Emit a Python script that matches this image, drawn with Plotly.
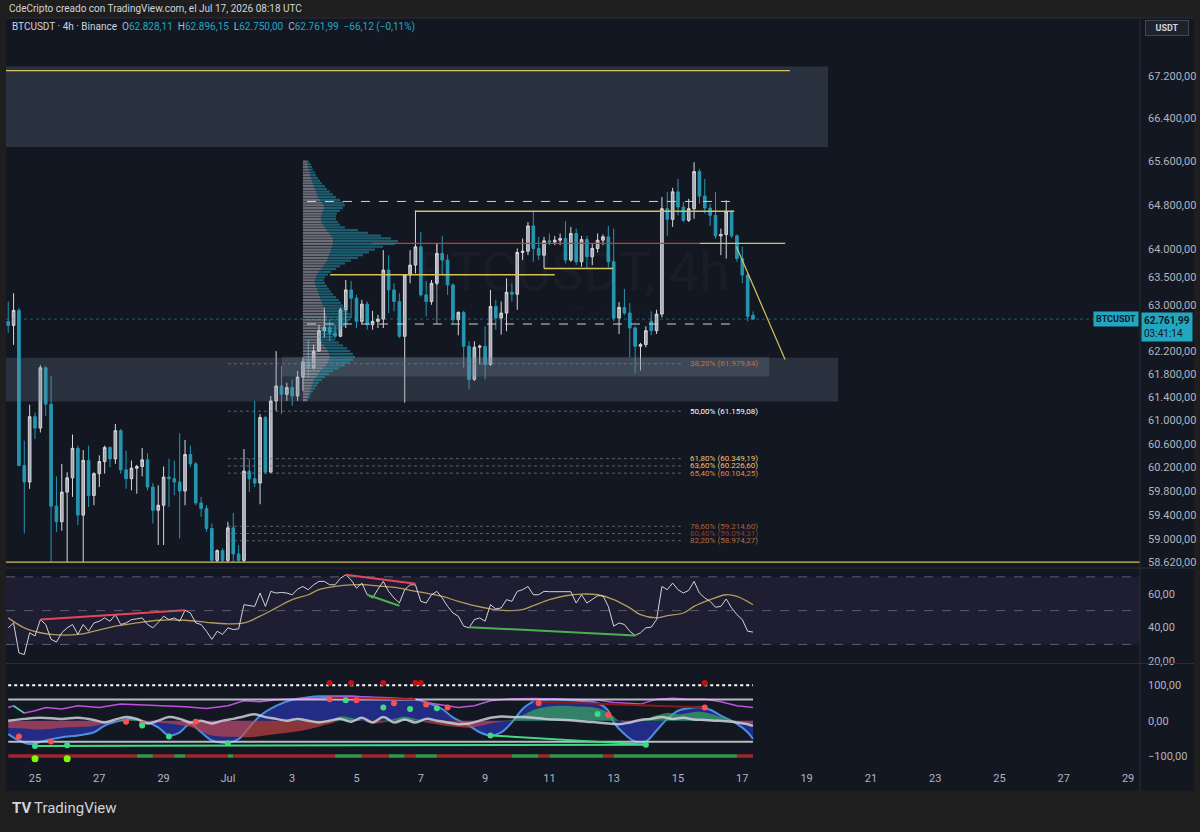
import math
import pandas as pd
import plotly.graph_objects as go

# ---------------- data ----------------
FIRST_BAR = "2026-06-24 04:00"
N_BARS = 140

open_ = [62720,62650,62915,60235,59955,61065,60870,61910,61280,59550,
59290,59785,60025,60525,59400,60320,59730,60095,60300,60540,
60345,60825,60160,60010,60188,60217,60329,59870,59482,59565,
60038,60010,59954,59803,60420,60261,59604,59509,59177,58650,
58810,58650,59188,58755,58650,60138,60010,59937,61052,60122,
61336,61594,61450,61565,61422,61749,62008,61910,62199,62558,
62617,62518,62460,62926,63278,63131,62722,63026,62663,62722,
62762,63632,63278,63073,62460,63544,63721,64049,63190,63073,
63396,63929,63810,63366,62750,62880,62285,61708,62268,62285,
61967,62985,62780,62868,63237,63202,63947,63970,64425,64019,
63899,64157,64135,64168,64198,63810,64289,63780,64180,63870,
64019,64168,64228,63780,62780,62968,62868,62605,62285,62314,
62722,62558,62850,64738,64545,65045,64768,64527,64738,65416,
64968,64750,64618,64246,64270,64690,64246,63840,63544,62828.11]

high = [63075,63220,62960,60655,61270,61135,61955,61940,61765,60050,
60260,60120,60760,60570,60495,60570,60120,60405,60570,60555,
60940,60855,60485,60318,60244,60530,60441,59937,59898,60217,
60345,60318,60780,60666,60571,60289,59703,59565,59260,58832,
58848,59288,59437,58904,60513,60345,61336,61109,61081,61422,
62199,61939,61651,61708,61853,62083,62400,62314,62663,62968,
62750,62663,62968,63455,63437,63190,63102,63073,62908,62838,
63989,63899,63396,63220,63556,63989,64707,64317,63437,63455,
64108,64246,63911,63396,62898,62908,62373,62373,62314,62635,
63278,63102,63073,63485,63396,64019,64198,64497,64678,64228,
64228,64289,64246,64289,64509,64408,64377,64246,64246,64108,
64289,64270,64425,64377,63061,63296,63043,62635,62343,62635,
62898,62926,64950,65045,65118,65282,64859,64919,65588,65465,
65282,64828,65040,64377,64890,64707,64270,64049,63573,62896.15]

low = [62520,62310,60220,59095,59840,60685,60795,61080,58620,59120,
59140,58625,59705,59235,58625,59535,59565,59870,60095,60205,
60260,60095,59840,59815,59758,60050,59815,59260,58904,58904,
59537,59731,59012,59565,60205,59565,59371,59122,58620,58620,
58620,58620,58625,58620,58620,59787,59870,59582,60093,60105,
61166,61109,61336,61251,61336,61508,61737,61881,62187,62430,
62373,62418,62442,62605,62780,62605,62675,62575,62575,62605,
62605,62868,62898,62430,61307,63396,63573,63161,62810,63014,
63366,63544,63190,62675,62477,61910,61537,61680,61967,61708,
61939,62575,62488,62547,63073,62926,63810,63899,63780,63810,
63662,64078,64078,64078,63751,63780,63721,63692,63662,63721,
63947,64078,63674,62722,62500,62838,62095,61823,61863,62268,
62480,62500,62792,64246,64408,64618,64497,64497,64557,64828,
64648,64425,64198,63899,63840,64210,63780,63396,62722,62750.00]

close = [62650,62915,60235,59955,61065,60870,61910,61280,59550,59290,
59785,60025,60525,59400,60320,59730,60095,60300,60540,60345,
60825,60160,60010,60188,60217,60329,59870,59482,59565,60038,
60010,59954,59803,60420,60261,59604,59509,59177,58650,58810,
58650,59188,58755,58650,60138,60010,59937,61052,60122,61336,
61594,61450,61565,61422,61749,62008,61910,62199,62558,62617,
62518,62460,62926,63278,63131,62722,63026,62663,62722,62762,
63632,63278,63073,62460,63544,63721,64049,63190,63073,63396,
63929,63810,63366,62750,62880,62285,61708,62268,62285,61967,
62985,62780,62868,63237,63202,63947,63970,64425,64019,63899,
64157,64135,64168,64198,63810,64289,63780,64180,63870,64019,
64168,64228,63780,62780,62968,62868,62605,62285,62314,62558,
62558,62850,64738,64545,65045,64768,64527,64738,65416,64968,
64750,64618,64246,64270,64690,64246,63840,63544,62810,62761.99]

rsi = [39.8,42.7,25,24,36.9,35,44.7,41.8,33,31.4,36.9,39.8,41.8,35.9,41.8,37.8,42.7,43.7,45.7,43.7,
47.6,41.8,42.7,44.7,45.1,45.7,41.8,39.8,43.1,46.7,44.7,45.7,43.7,50.2,48.6,42.7,41.8,37.8,33,37.8,
35.9,39.8,38.8,39.2,53.5,52.9,52.5,60.4,52.5,61.4,60.4,60.8,60.4,59.4,62.7,64.3,62.4,65.3,67.3,67.3,
65.3,65.3,69.2,71.2,68.2,63.3,66.3,59.4,57.5,62.7,67.3,61.4,57.5,54.5,62.4,65.3,65.3,55.5,54.5,59.4,
61.4,57.5,52.5,48.6,46.7,40.8,39.8,44.7,45.7,43.7,53.5,51,51.6,56.5,55.5,61.4,62.4,64.3,59.4,59.4,
61.4,61.2,61.2,61.2,61.2,61.2,54.5,59.4,54.5,56.5,58.8,58.8,52.5,40.8,42.7,41.8,37.8,35.3,36.9,39.8,
40.2,44.7,64.3,62.4,66.3,62.4,60.4,62,67.3,60.4,57.5,55.5,52,52.5,56.9,51.6,47.6,44.7,37.8,37.3]

rsi_ma_idx = [0,3,6,8,13,16,20,24,28,33,37,41,44,47,50,53,56,58,61,64,67,70,73,76,78,81,84,87,90,93,
              96,98,101,104,107,110,113,116,118,121,123,126,128,131,134,136,139]
rsi_ma_val = [45.7,39.8,36.9,35.9,35.9,37.8,40.8,42.7,44.3,44.3,43.1,42.2,42.7,46.7,51.6,56.5,59.4,62.4,64.3,65.3,
              65.3,64.3,63.3,61.4,60.4,58.4,55.5,52.9,51,50,50.6,52.9,56.5,58.8,59.8,59.4,56.5,51.6,47.6,45.7,
              47,48.6,52.5,56.5,59.4,58.4,53.5]

# RSI divergence segments: (idx0, val0, idx1, val1, colour)
rsi_div = [(6, 44.7, 33, 50.2, "#e8455a"), (63, 71.2, 76, 65.9, "#e8455a"),
           (67, 59.4, 73, 52.9, "#4caf50"), (86, 40.2, 117, 35.3, "#4caf50")]

# oscillator (cipher-style) readings
wt_idx = [0,2,4,7,10,13,16,18,21,23,26,28,30,32,34,36,38,41,43,45,47,50,53,56,58,61,64,67,70,73,
          76,78,81,83,86,88,90,92,94,96,98,101,104,107,110,112,113,115,117,119,121,123,125,127,129,131,133,136,138,139]
wt_val = [-38,-56,-66,-56,-47,-42,-33,-14,0,5,-5,-19,-42,-33,-9,-33,-56,-63,-52,-19,14,42,59,66,69,69,69,66,63,61,
          61,52,33,9,-14,-33,-42,-33,-5,33,54,61,59,56,50,28,-5,-38,-59,-59,-28,5,28,35,38,31,14,-9,-33,-52]
mf_idx = [0,3,6,10,13,16,18,20,22,24,26,28,30,32,34,38,42,45,50,55,60,62,64,66,68,70,72,74,76,78,
          80,82,84,86,88,90,92,94,96,98,100,103,106,109,111,113,114,115,117,119,121,123,125,127,129,131,133,135,136,138,139]
mf_val = [-20,-22,-25,-20,-18,-15,-8,-3,2,5,-3,-5,-8,-12,-18,-42,-46,-47,-38,-28,-9,12,8,0,-8,-5,5,12,5,-5,
          -10,-15,-18,-20,-15,-8,-3,2,15,30,38,42,40,38,30,12,0,-5,-3,5,15,22,18,22,25,20,10,2,-3,-8,-10]
vw_idx = [0,3,6,10,13,16,18,20,22,24,26,28,30,32,34,36,38,40,42,44,46,48,50,52,54,56,58,60,62,64,
          66,68,70,72,74,76,78,80,82,84,86,88,90,92,94,96,98,100,102,104,106,108,110,112,114,116,118,120,122,124,
          126,128,130,132,134,136,138,139]
vw_val = [0,5,8,5,8,2,-5,3,10,5,-8,0,10,5,-5,0,-8,0,5,12,18,10,5,0,5,0,-5,0,5,-3,
          8,-5,10,-5,3,-5,5,0,-5,-10,-8,0,8,12,10,10,8,5,3,2,0,-3,-5,-8,-10,-5,2,5,10,5,
          8,3,2,0,-2,-5,-10,-15]
pu_idx = [0,1,3,5,7,10,13,17,21,27,33,37,41,44,47,50,56,60,64,70,76,78,81,84,87,90,93,98,104,110,
          113,118,121,124,127,130,133,136,139]
pu_val = [37.5,42,21.6,28,37.5,32.8,42,37.5,47,44,39.4,34.7,42,56.3,53.5,59.1,63.8,65.7,67.6,65.7,
          61,51.6,44.1,37.5,42.2,56.3,61,62.9,61,58.2,51.6,46.9,61,63.8,61,61,53.5,42.2,37.5]
red_dot_idx = [60,65,72,78,82,99,130,2,8,22,25,35,112]
red_dot_val = [61,58,49,46,37.5,49,37.5,-45,-59,-3,-9.5,-3,16]
top_dot_idx = [60,64,70,76,77,130]
top_dot_val = [107,107,107,107,107,107]
green_dot_idx = [5,11,25,30,41,63,70,75,80,90,110,119]
green_dot_val = [-72,-70,-14,-45,-64,58,37.5,33,35,-42,19,-68]
lime_dot_idx = [5,11]
lime_dot_val = [-108,-108]
osc_div = [(5, -72, 119, -68, "#3ddc84"), (90, -42, 119, -68, "#3ddc84"),
           (98, 54, 130, 37.5, "#8b1a1a"), (60, 65, 76, 61, "#b02020")]
strip_breaks = [0,24,27,31,33,41,42,61,66,71,74,76,80,94,99,101,111,113,136,139]

# volume profile (price rows, total and grey part in arbitrary volume units)
profile_price = list(range(65600, 61300, -50))
profile_total = [6,8,9,10,12,13,15,17,19,22,24,27,30,33,37,41,42,40,37,34,
                 33,33,35,37,42,55,65,78,88,95,92,80,72,66,60,55,48,42,37,33,
                 28,25,22,21,22,24,26,28,30,33,36,38,40,43,45,47,48,47,45,42,
                 38,34,31,30,32,36,40,44,47,50,52,50,47,42,36,30,26,22,19,16,
                 14,12,10,8,7,5]
profile_grey = [4,5,5,6,7,7,8,9,10,11,12,13,14,15,17,19,21,21,20,19,
                18,18,19,20,22,24,26,28,30,30,30,29,28,27,26,25,24,22,20,18,
                16,14,13,12,12,13,14,15,16,17,18,19,20,21,22,23,24,24,23,22,
                20,18,17,16,17,19,21,23,25,26,27,26,25,23,20,17,15,13,11,10,
                9,8,7,6,5,4]

# fibonacci levels
fib_pct = ["38,20%", "50,00%", "61,80%", "63,60%", "65,40%", "78,60%", "80,40%", "82,20%"]
fib_price = [61979.84, 61159.08, 60349.19, 60226.60, 60104.25, 59214.60, 59094.31, 58974.27]
fib_color = ["#c8703a", "#ffffff", "#f2c27c", "#f2c27c", "#e08a3c", "#a8643a", "#8c3c2c", "#b57040"]

price_ticks = [67200, 66400, 65600, 64800, 64000, 63500, 63000, 62200, 61800, 61400,
               61000, 60600, 60200, 59800, 59400, 59000, 58620]
date_ticks = ["2026-06-25", "2026-06-27", "2026-06-29", "2026-07-01", "2026-07-03", "2026-07-05",
              "2026-07-07", "2026-07-09", "2026-07-11", "2026-07-13", "2026-07-15", "2026-07-17",
              "2026-07-19", "2026-07-21", "2026-07-23", "2026-07-25", "2026-07-27", "2026-07-29"]
date_tick_text = ["25", "27", "29", "Jul", "3", "5", "7", "9", "11", "13", "15", "17",
                  "19", "21", "23", "25", "27", "29"]

last_price = 62761.99

# ---------------- helpers ----------------
W, H = 1200, 832
BG = "#131722"
TEAL = "#2596b1"
FONT = "Roboto, Liberation Sans, sans-serif"
TXT = "#b2b5be"


def eu(v, d=2):
    s = f"{v:,.{d}f}"
    return s.replace(",", "X").replace(".", ",").replace("X", ".")


def px_x(p):
    return p / W


def px_y(p):
    return 1 - p / H


dates = pd.date_range(FIRST_BAR, periods=N_BARS, freq="4h")
T = pd.Timestamp
x_left, x_right = T("2026-06-24 02:21"), T("2026-07-29 08:53")
y_lo, y_hi = 58531.4, 68302.0

fig = go.Figure()


def hline(x0, x1, p, color, width=1, dash="solid", axis=("x", "y")):
    fig.add_trace(go.Scatter(x=[x0, x1], y=[p, p], mode="lines",
                             line=dict(color=color, width=width, dash=dash),
                             xaxis=axis[0], yaxis=axis[1], hoverinfo="skip", showlegend=False))


def seg(x0, y0, x1, y1, color, width=1, dash="solid", axis=("x", "y")):
    fig.add_trace(go.Scatter(x=[x0, x1], y=[y0, y1], mode="lines",
                             line=dict(color=color, width=width, dash=dash),
                             xaxis=axis[0], yaxis=axis[1], hoverinfo="skip", showlegend=False))


def rect(x0, x1, p0, p1, color):
    fig.add_trace(go.Scatter(x=[x0, x1, x1, x0, x0], y=[p0, p0, p1, p1, p0], mode="lines",
                             fill="toself", fillcolor=color, line=dict(width=0),
                             hoverinfo="skip", showlegend=False))


# ---------------- main pane ----------------
zone = "rgba(120,140,158,0.24)"
rect(x_left, T("2026-07-19 16:00"), 65869, 67375, zone)
rect(x_left, T("2026-07-19 23:30"), 61325, 62083, zone)
rect(T("2026-07-02 16:20"), T("2026-07-17 20:00"), 61760, 62100, zone)

# volume profile
prof_anchor = T("2026-07-03 08:00")
vol_unit = pd.Timedelta(hours=24 / 32.15)
gx, gy, tx, ty = [], [], [], []
for p, tot, g in zip(profile_price, profile_total, profile_grey):
    gx += [prof_anchor, prof_anchor + g * vol_unit, None]
    gy += [p, p, None]
    tx += [prof_anchor + g * vol_unit, prof_anchor + tot * vol_unit, None]
    ty += [p, p, None]
fig.add_trace(go.Scatter(x=gx, y=gy, mode="lines", line=dict(color="rgba(178,181,190,0.55)", width=2.2),
                         hoverinfo="skip", showlegend=False, connectgaps=False))
fig.add_trace(go.Scatter(x=tx, y=ty, mode="lines", line=dict(color="rgba(38,166,190,0.5)", width=2.2),
                         hoverinfo="skip", showlegend=False, connectgaps=False))

# fib lines
for p in fib_price:
    hline(T("2026-07-01 00:00"), T("2026-07-15 03:00"), p, "rgba(120,123,134,0.75)", 1, "dot")

# current price line
hline(x_left, x_right, last_price, "rgba(38,166,190,0.5)", 1, "dot")

# candles
fig.add_trace(go.Candlestick(
    x=dates, open=open_, high=high, low=low, close=close,
    increasing=dict(line=dict(color="#d6d8de", width=1), fillcolor="#a4a7b0"),
    decreasing=dict(line=dict(color=TEAL, width=1), fillcolor=TEAL),
    whiskerwidth=0, hoverinfo="skip", showlegend=False, xaxis="x", yaxis="y"))

# drawings
YEL = "#d6c15c"
hline(x_left, T("2026-07-18 11:30"), 67299, YEL, 1.2)
hline(x_left, x_right, 58620, YEL, 1.2)
hline(T("2026-07-03 11:00"), T("2026-07-16 18:00"), 64870, "#d1d4dc", 1, "dash")
hline(T("2026-07-03 11:00"), T("2026-07-16 18:00"), 62675, "#d1d4dc", 1, "dash")
hline(T("2026-07-06 20:00"), T("2026-07-16 18:00"), 64690, YEL, 1.5)
hline(T("2026-07-04 04:20"), T("2026-07-11 04:00"), 63550, YEL, 1.5)
hline(T("2026-07-10 20:00"), T("2026-07-12 23:30"), 63660, YEL, 1.5)
hline(T("2026-07-05 12:00"), T("2026-07-15 16:20"), 64110, "#c83a3a", 1.2)
hline(T("2026-07-15 16:20"), T("2026-07-18 08:00"), 64110, YEL, 1.2)
seg(T("2026-07-07 12:00"), 64108, T("2026-07-07 12:00"), 62675, "rgba(200,200,205,0.7)", 1)
seg(T("2026-07-16 19:40"), 64049, T("2026-07-18 07:55"), 62054, YEL, 1.2)

# ---------------- RSI pane ----------------
fig.add_trace(go.Scatter(x=dates[rsi_ma_idx], y=rsi_ma_val, mode="lines", line=dict(color="#b39c5a", width=1.3, shape="spline"),
                         xaxis="x2", yaxis="y2", hoverinfo="skip", showlegend=False))
fig.add_trace(go.Scatter(x=dates, y=rsi, mode="lines", line=dict(color="#d1d4dc", width=1),
                         xaxis="x2", yaxis="y2", hoverinfo="skip", showlegend=False))
for a, va, b, vb, c in rsi_div:
    seg(dates[a], va, dates[b], vb, c, 2, axis=("x2", "y2"))

# ---------------- oscillator pane ----------------
ax3 = ("x3", "y3")
fig.add_trace(go.Scatter(x=dates[wt_idx], y=wt_val, mode="lines", fill="tozeroy",
                         fillcolor="rgba(38,48,150,0.85)", line=dict(color="#4a8fe0", width=2, shape="spline"),
                         xaxis="x3", yaxis="y3", hoverinfo="skip", showlegend=False))
mf_pos = [max(v, 0) for v in mf_val]
mf_neg = [min(v, 0) for v in mf_val]
fig.add_trace(go.Scatter(x=dates[mf_idx], y=mf_neg, mode="lines", fill="tozeroy",
                         fillcolor="rgba(205,70,70,0.65)", line=dict(width=0, shape="spline"),
                         xaxis="x3", yaxis="y3", hoverinfo="skip", showlegend=False))
fig.add_trace(go.Scatter(x=dates[mf_idx], y=mf_pos, mode="lines", fill="tozeroy",
                         fillcolor="rgba(60,175,90,0.65)", line=dict(width=0, shape="spline"),
                         xaxis="x3", yaxis="y3", hoverinfo="skip", showlegend=False))
fig.add_trace(go.Scatter(x=dates[vw_idx], y=vw_val, mode="lines", line=dict(color="rgba(205,208,215,0.85)", width=2.5, shape="spline"),
                         xaxis="x3", yaxis="y3", hoverinfo="skip", showlegend=False))
fig.add_trace(go.Scatter(x=dates[pu_idx], y=pu_val, mode="lines", line=dict(color="#c050e0", width=1.5),
                         xaxis="x3", yaxis="y3", hoverinfo="skip", showlegend=False))
seg(dates[1], 42, dates[3], 21.6, "#3ddc84", 1.5, axis=ax3)
hline(dates[0], dates[-1], 100, "#ffffff", 2, "dot", axis=ax3)
hline(dates[0], dates[-1], 60, "rgba(215,215,220,0.85)", 2, axis=ax3)
hline(dates[0], dates[-1], -60, "rgba(215,215,220,0.85)", 2, axis=ax3)
for k in range(len(strip_breaks) - 1):
    c = "#a3242d" if k % 2 == 0 else "#2f9a47"
    hline(dates[strip_breaks[k]], dates[strip_breaks[k + 1]], -100, c, 3.5, axis=ax3)
for a, va, b, vb, c in osc_div:
    seg(dates[a], va, dates[b], vb, c, 2, axis=ax3)
for idx, val, col, sz in [(red_dot_idx, red_dot_val, "#ff4d4d", 6), (top_dot_idx, top_dot_val, "#c01010", 6),
                          (green_dot_idx, green_dot_val, "#3ddc84", 6), (lime_dot_idx, lime_dot_val, "#7cfc00", 7)]:
    fig.add_trace(go.Scatter(x=dates[idx], y=val, mode="markers", marker=dict(color=col, size=sz),
                             xaxis="x3", yaxis="y3", hoverinfo="skip", showlegend=False))

# ---------------- layout ----------------
xdom = [px_x(6), px_x(1140)]
common_x = dict(type="date", range=[x_left, x_right], showgrid=False, zeroline=False, showline=False,
                domain=xdom, fixedrange=True)
ytick_font = dict(family=FONT, size=11, color=TXT)

fig.update_layout(
    width=W, height=H, margin=dict(l=0, r=0, t=0, b=0),
    paper_bgcolor="#1e1e1e", plot_bgcolor=BG, showlegend=False,
    font=dict(family=FONT, color=TXT),
    xaxis=dict(**common_x, anchor="y", showticklabels=False, rangeslider=dict(visible=False)),
    xaxis2=dict(**common_x, anchor="y2", showticklabels=False, matches="x"),
    xaxis3=dict(**common_x, anchor="y3", matches="x", showticklabels=True, tickvals=date_ticks,
                ticktext=date_tick_text, ticks="", tickfont=dict(family=FONT, size=11, color=TXT),
                ticklabelstandoff=5),
    yaxis=dict(domain=[px_y(571), px_y(18)], type="log", range=[math.log10(y_lo), math.log10(y_hi)],
               side="right", anchor="x", showgrid=False, zeroline=False, ticks="",
               tickvals=price_ticks, ticktext=[eu(v) for v in price_ticks], tickfont=ytick_font,
               ticklabelstandoff=7, fixedrange=True),
    yaxis2=dict(domain=[px_y(667), px_y(572)], range=[19.0, 74.9], side="right", anchor="x2",
                showgrid=False, zeroline=False, ticks="", tickvals=[60, 40, 20],
                ticktext=["60,00", "40,00", "20,00"], tickfont=ytick_font, ticklabelstandoff=7),
    yaxis3=dict(domain=[px_y(770), px_y(668)], range=[-126.8, 160.6], side="right", anchor="x3",
                showgrid=False, zeroline=False, ticks="", tickvals=[100, 0, -100],
                ticktext=["100,00", "0,00", "\u2212100,00"], tickfont=ytick_font, ticklabelstandoff=7),
)

shapes = [
    # chart background incl. price scale
    dict(type="rect", xref="paper", yref="paper", x0=px_x(6), x1=px_x(1194), y0=px_y(795), y1=px_y(18),
         fillcolor=BG, line=dict(width=0), layer="below"),
    # pane separators
    dict(type="line", xref="paper", yref="paper", x0=px_x(6), x1=px_x(1194), y0=px_y(571.5), y1=px_y(571.5),
         line=dict(color="#2a2e39", width=1)),
    dict(type="line", xref="paper", yref="paper", x0=px_x(6), x1=px_x(1194), y0=px_y(667.5), y1=px_y(667.5),
         line=dict(color="#2a2e39", width=1)),
    dict(type="line", xref="paper", yref="paper", x0=px_x(1140), x1=px_x(1140), y0=px_y(795), y1=px_y(18),
         line=dict(color="#2a2e39", width=1)),
    dict(type="line", xref="paper", yref="paper", x0=px_x(6), x1=px_x(1194), y0=px_y(18), y1=px_y(18),
         line=dict(color="#2a2e39", width=1)),
    # RSI band + levels
    dict(type="rect", xref="x2 domain", yref="y2", x0=0, x1=1, y0=30, y1=70,
         fillcolor="rgba(126,87,194,0.10)", line=dict(width=0), layer="below"),
]
for lv in (70, 50, 30):
    shapes.append(dict(type="line", xref="x2 domain", yref="y2", x0=0, x1=1, y0=lv, y1=lv,
                       line=dict(color="rgba(120,123,134,0.7)", width=1, dash="dash")))
fig.update_layout(shapes=shapes)

ann = []
# header
ann.append(dict(xref="paper", yref="paper", x=px_x(7), y=px_y(9), xanchor="left", yanchor="middle",
                text="CdeCripto creado con TradingView.com, el Jul 17, 2026 08:18 UTC", showarrow=False,
                font=dict(family=FONT, size=10, color="#d1d4dc")))
val_c = "#22a7c1"
legend_txt = ("<span style='color:#d1d4dc'>BTCUSDT \u00b7 4h \u00b7 Binance</span>  "
              f"O<span style='color:{val_c}'>{eu(open_[-1])}</span>  "
              f"H<span style='color:{val_c}'>{eu(high[-1])}</span>  "
              f"L<span style='color:{val_c}'>{eu(low[-1])}</span>  "
              f"C<span style='color:{val_c}'>{eu(close[-1])}</span>  "
              f"<span style='color:{val_c}'>\u2212{eu(open_[-1] - close[-1])} (\u2212{eu((open_[-1] - close[-1]) / open_[-1] * 100)}%)</span>")
ann.append(dict(xref="paper", yref="paper", x=px_x(10), y=px_y(27), xanchor="left", yanchor="middle",
                text=legend_txt, showarrow=False, font=dict(family=FONT, size=10, color="#b2b5be")))
ann.append(dict(xref="paper", yref="paper", x=px_x(1167), y=px_y(28), xanchor="center", yanchor="middle",
                text="<b>USDT</b>", showarrow=False, font=dict(family=FONT, size=9, color="#d1d4dc"),
                bgcolor="#1e222d", bordercolor="#434651", borderwidth=1, width=40, height=12))
# watermark
ann.append(dict(xref="paper", yref="paper", x=px_x(573), y=px_y(273), xanchor="center", yanchor="middle",
                text="BTCUSDT, 4h", showarrow=False,
                font=dict(family=FONT, size=54, color="rgba(255,255,255,0.028)")))
ann.append(dict(xref="paper", yref="paper", x=px_x(573), y=px_y(318), xanchor="center", yanchor="middle",
                text="Bitcoin / TetherUS", showarrow=False,
                font=dict(family=FONT, size=20, color="rgba(255,255,255,0.028)")))
# fib labels
for lab, p, c in zip(fib_pct, fib_price, fib_color):
    ann.append(dict(xref="x", yref="y", x=T("2026-07-15 07:30"), y=math.log10(p), xanchor="left",
                    yanchor="middle", text=f"{lab} ({eu(p)})", showarrow=False,
                    font=dict(family=FONT, size=8, color=c)))
# last price labels
ann.append(dict(xref="paper", yref="y", x=px_x(1139), y=math.log10(last_price), xanchor="right", yanchor="middle",
                text="<b>BTCUSDT</b>", showarrow=False, font=dict(family=FONT, size=9, color="#131722"),
                bgcolor="#22a7c1", borderpad=2))
ann.append(dict(xref="paper", yref="y", x=px_x(1141), y=math.log10(last_price), xanchor="left", yanchor="top",
                yshift=7, text=f"<b>{eu(last_price)}</b><br>03:41:14", showarrow=False, align="left",
                font=dict(family=FONT, size=10, color="#131722"), bgcolor="#22a7c1", borderpad=2))
# footer logo
ann.append(dict(xref="paper", yref="paper", x=px_x(10), y=px_y(813), xanchor="left", yanchor="middle",
                text="<b>TV</b>", showarrow=False, font=dict(family=FONT, size=15, color="#d1d4dc")))
ann.append(dict(xref="paper", yref="paper", x=px_x(32), y=px_y(813), xanchor="left", yanchor="middle",
                text="TradingView", showarrow=False, font=dict(family=FONT, size=15, color="#d1d4dc")))
fig.update_layout(annotations=ann)

fig.write_html("out.html")
